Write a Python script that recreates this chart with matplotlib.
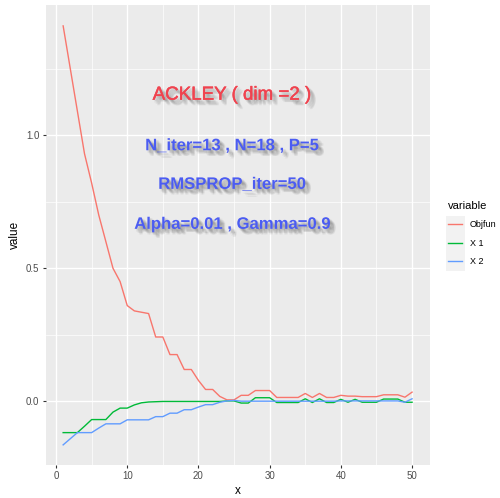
import matplotlib
matplotlib.use('Agg')
import matplotlib.pyplot as plt
import matplotlib.patheffects as pe
from matplotlib.patches import Rectangle
from matplotlib.ticker import MultipleLocator

plt.rcParams['font.family'] = ['Liberation Sans', 'DejaVu Sans']

iters = list(range(1, 51))
objfun = [1.41, 1.25, 1.09, 0.93, 0.82, 0.70, 0.60, 0.50, 0.45, 0.36,
          0.34, 0.335, 0.33, 0.242, 0.242, 0.176, 0.176, 0.12, 0.12, 0.079,
          0.045, 0.045, 0.019, 0.006, 0.006, 0.023, 0.023, 0.041, 0.041, 0.041,
          0.015, 0.015, 0.015, 0.015, 0.030, 0.015, 0.030, 0.015, 0.015, 0.023,
          0.020, 0.020, 0.018, 0.018, 0.018, 0.025, 0.025, 0.025, 0.016, 0.035]
x1 = [-0.117, -0.117, -0.117, -0.093, -0.068, -0.068, -0.068, -0.040, -0.025, -0.025,
      -0.013, -0.005, -0.002, -0.001, 0.0, 0.0, 0.0, 0.0, 0.0, 0.0,
      0.0, 0.0, 0.0, 0.002, 0.002, -0.006, -0.006, 0.014, 0.014, 0.014,
      -0.004, -0.004, -0.004, -0.004, 0.010, -0.004, 0.010, -0.004, -0.004, 0.008,
      -0.003, 0.008, -0.003, -0.003, -0.003, 0.009, 0.009, 0.009, -0.003, -0.003]
x2 = [-0.163, -0.140, -0.117, -0.117, -0.117, -0.100, -0.084, -0.084, -0.084, -0.069,
      -0.069, -0.069, -0.069, -0.057, -0.057, -0.044, -0.044, -0.031, -0.031, -0.021,
      -0.012, -0.012, -0.003, 0.002, 0.004, 0.001, 0.001, 0.001, 0.001, 0.001,
      0.001, 0.001, 0.001, 0.001, 0.001, 0.001, 0.001, 0.001, 0.001, 0.002,
      0.002, 0.002, 0.002, 0.002, 0.002, 0.002, 0.002, 0.002, -0.003, 0.010]
labels = ['Objfun', 'X 1', 'X 2']
colors = ['#F8766D', '#00BA38', '#619CFF']

fig = plt.figure(figsize=(5.0, 4.98), dpi=100)
ax = fig.add_axes([0.0914, 0.0663, 0.7676, 0.9237])
ax.set_facecolor('#EBEBEB')

for s, lab, c in zip([objfun, x1, x2], labels, colors):
    ax.plot(iters, s, color=c, lw=1.0, label=lab)

ax.set_xlim(-1.45, 52.45)
ax.set_ylim(-0.2385, 1.4885)
ax.xaxis.set_major_locator(MultipleLocator(10))
ax.xaxis.set_minor_locator(MultipleLocator(5))
ax.yaxis.set_major_locator(MultipleLocator(0.5))
ax.yaxis.set_minor_locator(MultipleLocator(0.25))
ax.grid(which='major', color='white', lw=1.0)
ax.grid(which='minor', color='white', lw=0.5)
ax.set_axisbelow(True)
for sp in ax.spines.values():
    sp.set_visible(False)
ax.tick_params(which='major', length=2.5, width=0.8, color='#333333',
               labelsize=7, labelcolor='#4D4D4D', pad=2)
ax.tick_params(which='minor', length=0)
ax.set_xlabel('x', fontsize=8.5, labelpad=3)
ax.set_ylabel('value', fontsize=8.5, labelpad=4)

# soft drop shadow built from several offset copies
def shadow(col, stroke=0.0):
    fx = []
    for dx, dy in [(1, -1), (2, -2), (3, -3), (2, -1), (1, -2), (3, -2), (2, -3), (4, -4), (3, -4), (4, -3)]:
        fx.append(pe.SimplePatchShadow(offset=(dx, dy), shadow_rgbFace='#505050', alpha=0.08))
    if stroke:
        fx.append(pe.withStroke(linewidth=stroke, foreground=col))
    else:
        fx.append(pe.Normal())
    return fx

red, blue = '#F0434F', '#4B5CF2'
ax.text(24.7, 1.15, 'ACKLEY ( dim =2 )', color=red, fontsize=13.5,
        ha='center', va='center', path_effects=shadow(red, 0.35))
ax.text(24.7, 0.96, 'N_iter=13 , N=18 , P=5', color=blue, fontsize=12,
        fontweight='bold', ha='center', va='center', path_effects=shadow(blue))
ax.text(24.7, 0.815, 'RMSPROP_iter=50', color=blue, fontsize=12,
        fontweight='bold', ha='center', va='center', path_effects=shadow(blue))
ax.text(24.7, 0.665, 'Alpha=0.01 , Gamma=0.9', color=blue, fontsize=12,
        fontweight='bold', ha='center', va='center', path_effects=shadow(blue))

# grey key background behind the legend entries
fig.patches.append(Rectangle((446 / 500, 1 - 271 / 498), 19 / 500, 55 / 498,
                             transform=fig.transFigure, facecolor='#F2F2F2',
                             edgecolor='none', zorder=0))
leg = fig.legend(loc='upper left', bbox_to_anchor=(0.896, 1 - 201 / 498),
                 frameon=False, title='variable', fontsize=6.5, title_fontsize=8,
                 handlelength=1.6, handletextpad=0.8, labelspacing=1.05,
                 borderpad=0, borderaxespad=0)
leg._legend_box.align = 'left'

fig.savefig('out.png', dpi=100)
